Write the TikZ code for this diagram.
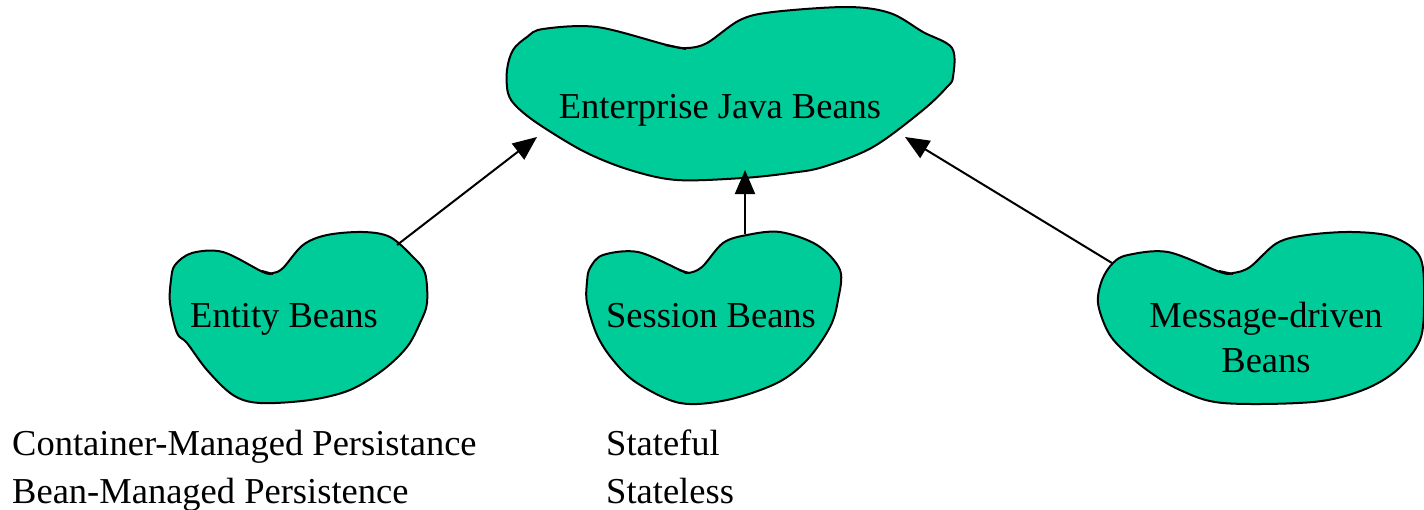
\documentclass[tikz,border=0pt]{standalone}
\usepackage{fontspec}
\setmainfont{Liberation Serif}
\usetikzlibrary{arrows.meta}
\definecolor{beangreen}{RGB}{0,204,153}
\tikzset{
  blob/.style={draw=black, line width=2pt, fill=beangreen, line join=round},
  lbl/.style={font=\fontsize{36.5}{45}\selectfont, inner sep=0pt, anchor=base},
  plain/.style={font=\fontsize{36.5}{48}\selectfont, inner sep=0pt, anchor=base west},
  arr/.style={line width=2pt, -{Triangle[length=24pt,width=20pt]}},
  tick/.style={line width=2pt}
}
\begin{document}
\begin{tikzpicture}[x=1pt,y=-1pt]
\useasboundingbox (0,0) rectangle (1424,509);
% big blob
\draw[blob] plot[smooth cycle, tension=0.55] coordinates {
 (507,70) (513,50) (527,37) (543,29) (597,27) (667,45) (687,48) (707,43)
 (740,20) (773,12) (847,7) (890,13) (923,32) (952,48) (953,77) (947,87)
 (923,110) (873,147) (823,167) (790,173) (743,178) (677,180) (630,170)
 (585,152) (540,125) (517,107) (508,93)};
\draw[tick] (665,45) -- (686,49);
% entity blob
\draw[blob] plot[smooth cycle, tension=0.55] coordinates {
 (175,265) (192,253) (223,252) (263,272) (273,273) (283,268) (303,245)
 (327,235) (363,232) (390,237) (413,257) (425,273) (427,303) (420,323)
 (407,347) (383,370) (350,390) (310,400) (260,403) (233,395) (207,370)
 (187,343) (177,333) (170,303) (171,280)};
\draw[tick] (262,271) -- (273,274);
% session blob
\draw[blob] plot[smooth cycle, tension=0.55] coordinates {
 (590,268) (603,255) (638,252) (680,270) (688,273) (702,267) (723,243)
 (747,235) (780,232) (817,245) (840,270) (838,300) (830,327) (807,360)
 (777,383) (727,400) (680,403) (637,383) (613,360) (597,335) (587,303)
 (587,282)};
\draw[tick] (679,270) -- (689,273);
% message blob
\draw[blob] plot[smooth cycle, tension=0.55] coordinates {
 (1113,263) (1128,255) (1168,252) (1220,272) (1233,273) (1250,267)
 (1277,243) (1307,235) (1353,232) (1393,237) (1420,257) (1424,300)
 (1420,340) (1397,370) (1363,390) (1313,402) (1223,403) (1180,390)
 (1147,370) (1120,347) (1107,330) (1098,303) (1102,280)};
\draw[tick] (1219,271) -- (1233,274);
% labels
\node[lbl] (ejb) at (720,118) {Enterprise Java Beans};
\node[lbl] (entity) at (284,327) {Entity Beans};
\node[lbl] (session) at (711,327) {Session Beans};
\node[lbl, align=center] (mdb) at (1266,372) {Message-driven\\Beans};
\node[plain] (cmp) at (12,455) {Container-Managed Persistance};
\node[plain] (bmp) at (12,503) {Bean-Managed Persistence};
\node[plain] (sf) at (606,455) {Stateful};
\node[plain] (sl) at (606,503) {Stateless};
% connector end points
\coordinate (ejbL) at (537,137);
\coordinate (ejbB) at (745,170);
\coordinate (ejbR) at (905,137);
\coordinate (entT) at (397,245);
\coordinate (sesT) at (745,234);
\coordinate (mdbT) at (1112,263);
\draw[arr] (entT) -- (ejbL);
\draw[arr] (sesT) -- (ejbB);
\draw[arr] (mdbT) -- (ejbR);
\end{tikzpicture}
\end{document}
